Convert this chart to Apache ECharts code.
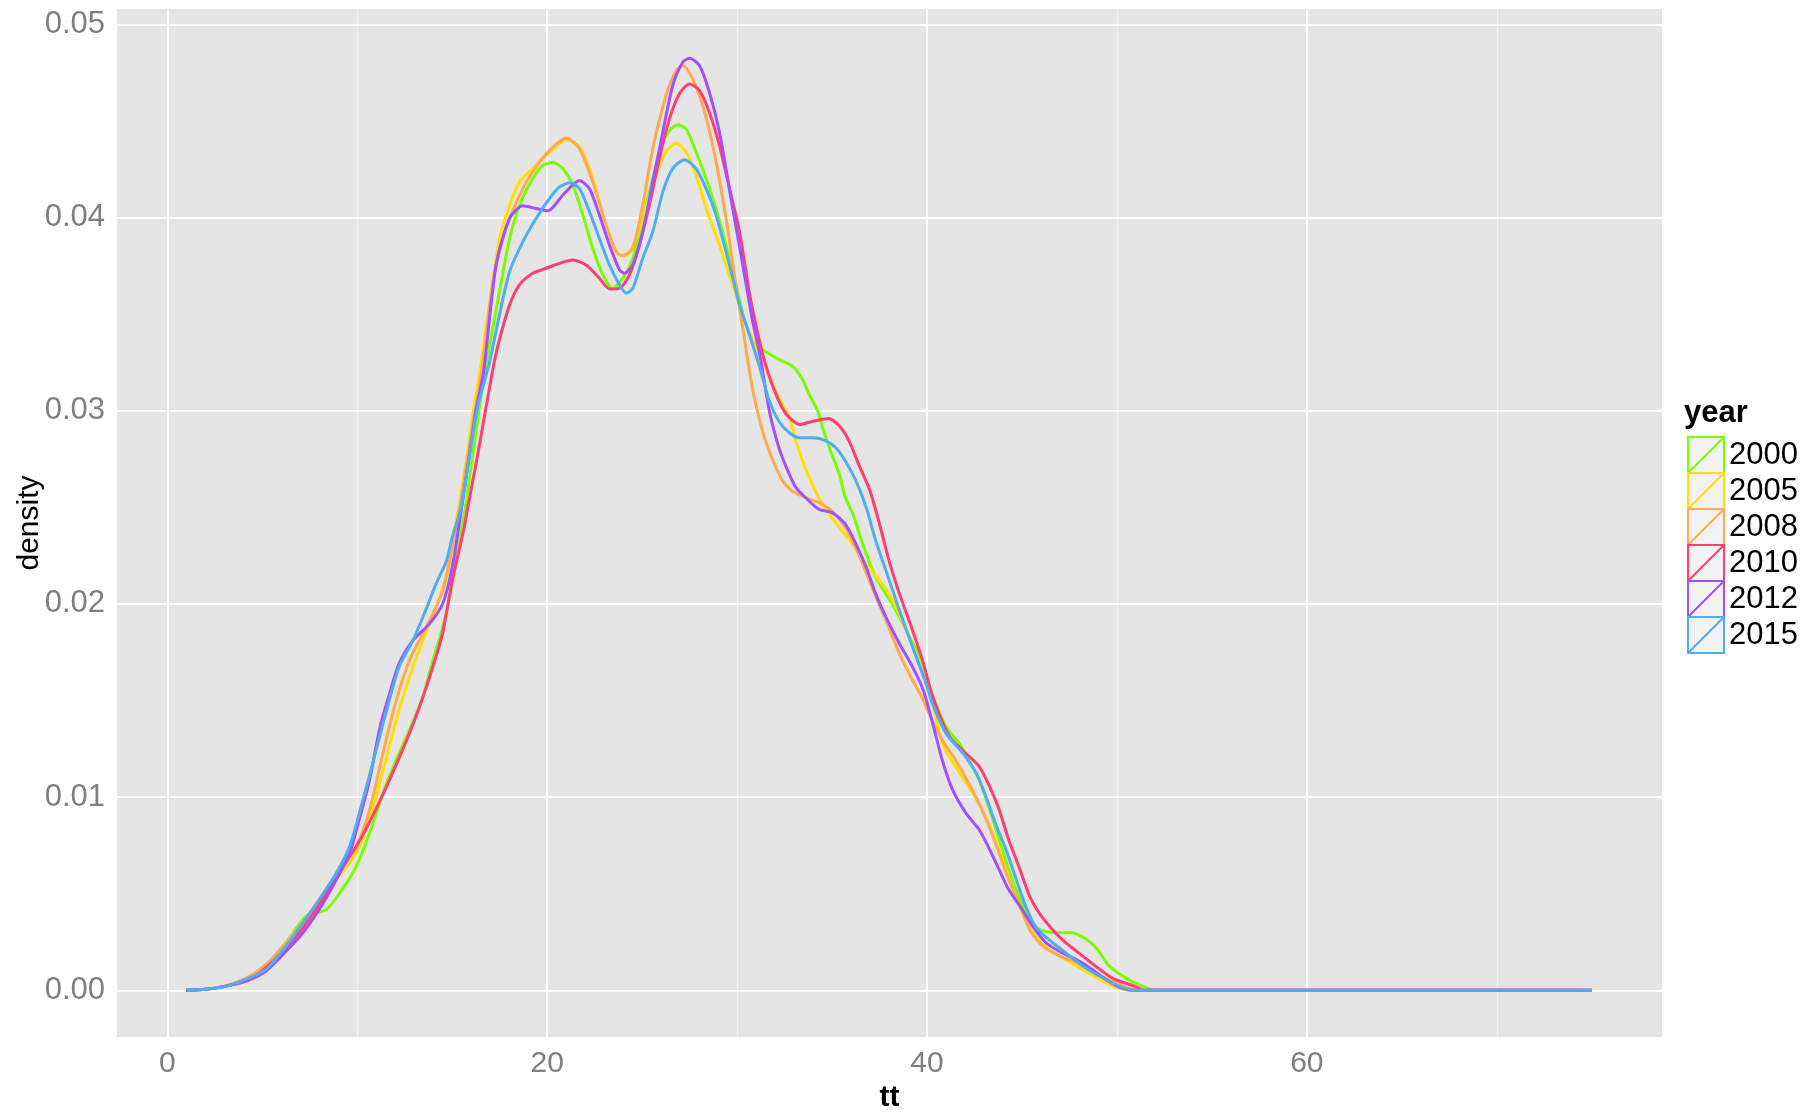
<!DOCTYPE html>
<html><head><meta charset="utf-8">
<script src="https://cdn.jsdelivr.net/npm/echarts@6/dist/echarts.min.js"></script>
<style>html,body{margin:0;padding:0;background:#fff}#c{width:1819px;height:1112px}</style>
</head><body><div id="c"></div>
<script>
const years = ['2000', '2005', '2008', '2010', '2012', '2015'];
const colors = ['#7CFC00', '#FFE000', '#FFA950', '#FF3F72', '#A250FF', '#4FADF0'];
const xTicks = [0, 20, 40, 60];
const xMinor = [10, 30, 50, 70];
const yTicks = [0, 0.01, 0.02, 0.03, 0.04, 0.05];
const yMinor = [0.005, 0.015, 0.025, 0.035, 0.045];

const d2000 = [[1,0],[2,0.00005],[3,0.0002],[4.2,0.0006],[5.2,0.00126],[6.44,0.00272],[7.3,0.00384],[8.37,0.00418],[9.2,0.00521],[9.95,0.00642],[10.65,0.00814],[11.35,0.0102],[12.05,0.01192],[12.75,0.01347],[13.45,0.01519],[13.98,0.01708],[14.5,0.0188],[14.9,0.0205],[15.3,0.0228],[15.7,0.025],[16.4,0.03],[16.75,0.0322],[17.49,0.03617],[18.02,0.03892],[18.54,0.04064],[19.24,0.04202],[19.77,0.04271],[20.3,0.04285],[20.82,0.04254],[21.35,0.04168],[21.88,0.04013],[22.4,0.03841],[22.93,0.03703],[23.45,0.03634],[23.98,0.03686],[24.51,0.03789],[25.03,0.03996],[25.56,0.04202],[26.09,0.04391],[26.53,0.0446],[26.87,0.04481],[27.31,0.0446],[27.84,0.0434],[28.37,0.04202],[28.89,0.04047],[29.42,0.03858],[29.94,0.03652],[30.47,0.03445],[31.0,0.0334],[31.5,0.03307],[32.22,0.03265],[32.93,0.0323],[33.45,0.03161],[33.8,0.03084],[34.25,0.02998],[34.5,0.02912],[34.86,0.02809],[35.38,0.02671],[35.7,0.02551],[36.1,0.02465],[36.44,0.02362],[36.8,0.02258],[37.3,0.02138],[37.84,0.02052],[38.37,0.01966],[38.9,0.01863],[39.6,0.01725],[40.4,0.0150],[41.0,0.01364],[41.7,0.01278],[42.2,0.01192],[42.75,0.01089],[43.3,0.00934],[43.8,0.00779],[44.3,0.00624],[44.9,0.0047],[45.4,0.00366],[45.9,0.00315],[46.8,0.00298],[47.67,0.00298],[48.4,0.00263],[48.9,0.0022],[49.6,0.00126],[50.3,0.00074],[51.2,0.00026],[52.05,0],[75,0]];
const d2005 = [[1,0],[2,0.00005],[3,0.0002],[4.2,0.0006],[5.2,0.00126],[6.26,0.00246],[7.14,0.0034],[8.0,0.00452],[8.9,0.00573],[9.95,0.0071],[10.8,0.00934],[11.5,0.01192],[12.2,0.0145],[12.93,0.01674],[13.6,0.01846],[14.3,0.0202],[14.8,0.0218],[15.1,0.0238],[15.35,0.025],[15.75,0.0275],[16.12,0.03],[16.45,0.032],[16.96,0.03548],[17.49,0.03892],[18.02,0.04064],[18.54,0.04185],[19.24,0.04254],[19.95,0.04322],[20.65,0.04383],[21.0,0.04405],[21.7,0.04365],[22.4,0.04202],[23.1,0.03961],[23.8,0.03806],[24.15,0.03803],[24.68,0.03892],[25.2,0.04047],[25.73,0.04219],[26.26,0.0434],[26.78,0.04386],[27.31,0.0434],[27.84,0.04219],[28.37,0.04047],[29.07,0.03858],[29.77,0.03652],[30.48,0.03445],[31.0,0.0333],[31.5,0.03222],[32.2,0.03067],[32.75,0.02964],[33.1,0.02843],[33.45,0.0274],[33.8,0.02654],[34.3,0.02551],[34.86,0.02465],[35.38,0.02396],[36.08,0.0231],[36.78,0.02207],[37.5,0.02121],[38.2,0.02018],[38.9,0.01863],[39.6,0.01691],[40.2,0.0153],[40.8,0.01278],[41.5,0.01158],[42.2,0.01054],[42.9,0.00934],[43.6,0.00779],[44.16,0.00624],[44.7,0.0047],[45.2,0.00366],[45.7,0.0028],[46.4,0.00212],[47.3,0.0016],[48.2,0.00108],[49.07,0.00057],[49.9,0.00017],[50.8,0],[75,0]];
const d2008 = [[1,0],[2,0.00005],[3,0.0002],[4.2,0.00065],[5.2,0.00134],[6.26,0.00246],[7.14,0.00349],[8.0,0.0047],[8.9,0.0059],[9.95,0.00745],[10.65,0.00934],[11.35,0.01227],[12.05,0.015],[12.75,0.01708],[13.45,0.01846],[13.98,0.01949],[14.5,0.02069],[15.0,0.02293],[15.4,0.025],[16.2,0.03],[16.55,0.032],[17.14,0.03669],[17.84,0.03944],[18.72,0.0415],[19.6,0.04288],[20.3,0.04365],[21.0,0.04412],[21.7,0.04357],[22.4,0.04185],[23.1,0.03961],[23.63,0.03824],[23.98,0.03803],[24.5,0.03841],[25.03,0.04064],[25.56,0.04357],[26.26,0.04632],[26.78,0.04761],[27.14,0.04787],[27.66,0.04718],[28.19,0.0458],[28.72,0.04374],[29.42,0.03996],[29.94,0.03652],[30.47,0.0332],[30.8,0.03119],[31.2,0.02946],[31.5,0.02843],[31.9,0.0274],[32.4,0.02637],[32.9,0.02585],[33.6,0.02551],[34.3,0.02525],[35.0,0.02482],[35.7,0.02396],[36.4,0.02258],[37.1,0.02086],[37.84,0.01914],[38.55,0.01742],[39.24,0.01605],[39.8,0.01502],[40.1,0.01433],[40.8,0.01295],[41.5,0.01192],[42.2,0.01072],[42.9,0.00934],[43.6,0.00762],[44.3,0.00573],[44.9,0.00435],[45.4,0.00315],[46.1,0.00229],[47.0,0.00177],[47.9,0.00143],[48.8,0.00091],[49.7,0.00048],[50.5,0.00014],[51.2,0],[75,0]];
const d2010 = [[1,0],[2,0.00005],[3,0.0002],[4.2,0.0005],[5.2,0.00117],[6.26,0.0022],[7.14,0.00323],[8.0,0.00444],[8.9,0.0059],[9.95,0.00745],[10.8,0.009],[11.7,0.01089],[12.6,0.01295],[13.28,0.01467],[13.98,0.01674],[14.5,0.0185],[15.0,0.0212],[15.6,0.0238],[15.82,0.025],[16.3,0.0275],[16.75,0.03],[17.23,0.0326],[17.49,0.0337],[18.02,0.03548],[18.54,0.03652],[19.24,0.03712],[19.95,0.03738],[20.65,0.03763],[21.35,0.0378],[22.05,0.03755],[22.75,0.03686],[23.28,0.03631],[23.81,0.03634],[24.33,0.03703],[24.86,0.03858],[25.38,0.04064],[25.91,0.04305],[26.44,0.04511],[26.96,0.0464],[27.49,0.04692],[28.02,0.04658],[28.54,0.04546],[29.07,0.04374],[29.6,0.0415],[30.13,0.03927],[30.65,0.0361],[31.1,0.03394],[31.5,0.03239],[32.05,0.03084],[32.6,0.02981],[33.3,0.02929],[34.0,0.02946],[34.8,0.0296],[35.4,0.0292],[35.9,0.02843],[36.4,0.02723],[37.0,0.02585],[37.5,0.02413],[38.0,0.02224],[38.55,0.02052],[39.24,0.01863],[39.77,0.01708],[40.3,0.0152],[41.2,0.01312],[42.05,0.01226],[42.75,0.01158],[43.3,0.01054],[43.8,0.00934],[44.3,0.00779],[44.9,0.00624],[45.4,0.00487],[45.9,0.00401],[46.6,0.00315],[47.3,0.00246],[48.2,0.00177],[49.1,0.00108],[49.8,0.0006],[50.8,0.00026],[51.5,0],[75,0]];
const d2012 = [[1,0],[2,0.00005],[3,0.0002],[4.2,0.0005],[5.2,0.001],[6.26,0.00203],[7.14,0.00298],[8.0,0.00418],[8.9,0.00573],[9.6,0.0071],[10.1,0.00882],[10.65,0.01089],[11.2,0.01364],[11.7,0.01536],[12.2,0.01691],[12.93,0.01811],[13.8,0.01897],[14.5,0.02001],[15.0,0.0219],[15.5,0.025],[16.25,0.03],[16.65,0.032],[17.31,0.03755],[18.02,0.03996],[18.72,0.04061],[19.42,0.04047],[20.04,0.04035],[20.82,0.04116],[21.7,0.04192],[22.23,0.0415],[22.75,0.04013],[23.28,0.03858],[23.81,0.03729],[24.07,0.03712],[24.51,0.03755],[25.03,0.03927],[25.56,0.04185],[26.09,0.04443],[26.61,0.04684],[27.14,0.04804],[27.49,0.04825],[28.02,0.04787],[28.54,0.04649],[29.07,0.04443],[29.77,0.04047],[30.3,0.03755],[30.82,0.03462],[31.2,0.0329],[31.7,0.02998],[32.2,0.02809],[32.6,0.02706],[33.1,0.02602],[33.6,0.02551],[34.3,0.0249],[35.0,0.02473],[35.7,0.02413],[36.26,0.0231],[36.8,0.0219],[37.3,0.02052],[37.84,0.01932],[38.55,0.01794],[39.24,0.01674],[39.8,0.01554],[40.3,0.01381],[40.8,0.01192],[41.35,0.01037],[42.05,0.00917],[42.75,0.00831],[43.3,0.00728],[43.8,0.00624],[44.3,0.00521],[44.9,0.00435],[45.56,0.00332],[46.26,0.00246],[47.1,0.00194],[47.84,0.0016],[48.7,0.00108],[49.4,0.00057],[50.1,0.00017],[50.8,0],[75,0]];
const d2015 = [[1,0],[2,0.00005],[3.1,0.0002],[4.15,0.00057],[5.2,0.00108],[6.26,0.00229],[7.14,0.00349],[8.0,0.0047],[8.9,0.00607],[9.6,0.00745],[10.3,0.00986],[11.0,0.01244],[11.5,0.01433],[12.2,0.01674],[12.93,0.01811],[13.6,0.01966],[14.15,0.02104],[14.7,0.02224],[15.0,0.02344],[15.47,0.025],[16.3,0.03],[16.96,0.0325],[17.49,0.03497],[18.02,0.0372],[18.72,0.03875],[19.42,0.03996],[20.12,0.04099],[20.65,0.04159],[21.18,0.0418],[21.7,0.0415],[22.23,0.0403],[22.75,0.03892],[23.28,0.03755],[23.81,0.03652],[24.16,0.03609],[24.51,0.03634],[25.03,0.03789],[25.56,0.03927],[26.09,0.04133],[26.61,0.04254],[27.23,0.043],[27.84,0.04254],[28.37,0.0415],[28.89,0.04013],[29.6,0.03755],[30.13,0.03548],[30.65,0.03394],[31.2,0.03222],[31.7,0.0305],[32.2,0.02946],[32.75,0.02886],[33.3,0.0286],[34.0,0.0286],[34.7,0.02843],[35.2,0.02809],[35.7,0.0274],[36.26,0.02637],[36.8,0.02499],[37.3,0.02327],[37.84,0.02172],[38.55,0.01966],[39.24,0.01777],[39.95,0.01588],[40.3,0.0148],[41.0,0.0133],[41.9,0.01226],[42.6,0.01123],[43.1,0.01003],[43.6,0.00865],[44.16,0.00728],[44.7,0.00573],[45.2,0.00435],[45.7,0.00332],[46.4,0.00263],[47.3,0.00194],[48.2,0.00126],[49.07,0.00074],[49.9,0.00031],[50.8,0],[75,0]];
const seriesData = [d2000, d2005, d2008, d2010, d2012, d2015];

const FONT = '"Liberation Sans", Arial, sans-serif';
const chart = echarts.init(document.getElementById('c'), null, {renderer: 'canvas'});

const gl = (axis, vals, color, width) => vals.map(v => ({[axis]: v, lineStyle: {color: color, width: width, type: 'solid'}}));

const gridSeries = {
  type: 'line', name: '_grid', data: [[10, 0]], showSymbol: false, silent: true,
  lineStyle: {width: 0}, z: 1,
  markLine: {
    silent: true, symbol: ['none', 'none'], label: {show: false}, animation: false, z: 1,
    emphasis: {disabled: true},
    data: [].concat(
      gl('xAxis', xMinor, '#F2F2F2', 1),
      gl('yAxis', yMinor, '#F2F2F2', 1),
      gl('xAxis', xTicks, '#FFFFFF', 2),
      gl('yAxis', yTicks, '#FFFFFF', 2)
    )
  }
};

const option = {
  animation: false,
  backgroundColor: '#FFFFFF',
  grid: {left: 117, right: 157, top: 9, bottom: 75, show: true, backgroundColor: '#E5E5E5', borderWidth: 0,
    outerBoundsMode: 'none', containLabel: false},
  title: {text: 'year', left: 1684, top: 398, padding: 0,
    textStyle: {fontFamily: FONT, fontSize: 31, fontWeight: 'bold', color: '#000'}},
  legend: {
    orient: 'vertical', left: 1687, top: 436, padding: 0,
    itemWidth: 36, itemHeight: 36, itemGap: -2, selectedMode: false,
    icon: 'path://M0,0L36,0L36,36L0,36Z M0,36L36,0',
    textStyle: {fontFamily: FONT, fontSize: 31, lineHeight: 36, color: '#000'},
    data: years.map((y, i) => ({name: y, itemStyle: {color: '#F2F2F2', borderColor: colors[i], borderWidth: 2}}))
  },
  xAxis: {
    type: 'value', min: -2.65, max: 78.7,
    name: 'tt', nameLocation: 'middle', nameGap: 46, nameMoveOverlap: false,
    nameTextStyle: {fontFamily: FONT, fontSize: 30, fontWeight: 'bold', color: '#000'},
    splitLine: {show: false}, axisLine: {show: false},
    axisTick: {show: true, customValues: xTicks, length: 6, lineStyle: {color: '#555', width: 1.5}},
    axisLabel: {customValues: xTicks, fontFamily: FONT, fontSize: 30, color: '#7F7F7F', margin: 12}
  },
  yAxis: {
    type: 'value', min: -0.00242, max: 0.0508,
    name: 'density', nameLocation: 'middle', nameGap: 72, nameMoveOverlap: false,
    nameTextStyle: {fontFamily: FONT, fontSize: 30, color: '#000'},
    splitLine: {show: false}, axisLine: {show: false},
    axisTick: {show: true, customValues: yTicks, length: 6, lineStyle: {color: '#555', width: 1.5}},
    axisLabel: {customValues: yTicks, fontFamily: FONT, fontSize: 31, color: '#7F7F7F', margin: 12,
      formatter: v => v.toFixed(2)}
  },
  series: [gridSeries].concat(years.map((y, i) => ({
    type: 'line', name: y, data: seriesData[i], showSymbol: false, smooth: 0.25, z: 2,
    lineStyle: {color: colors[i], width: 3},
    itemStyle: {color: colors[i]}
  })))
};
chart.setOption(option);
</script></body></html>
